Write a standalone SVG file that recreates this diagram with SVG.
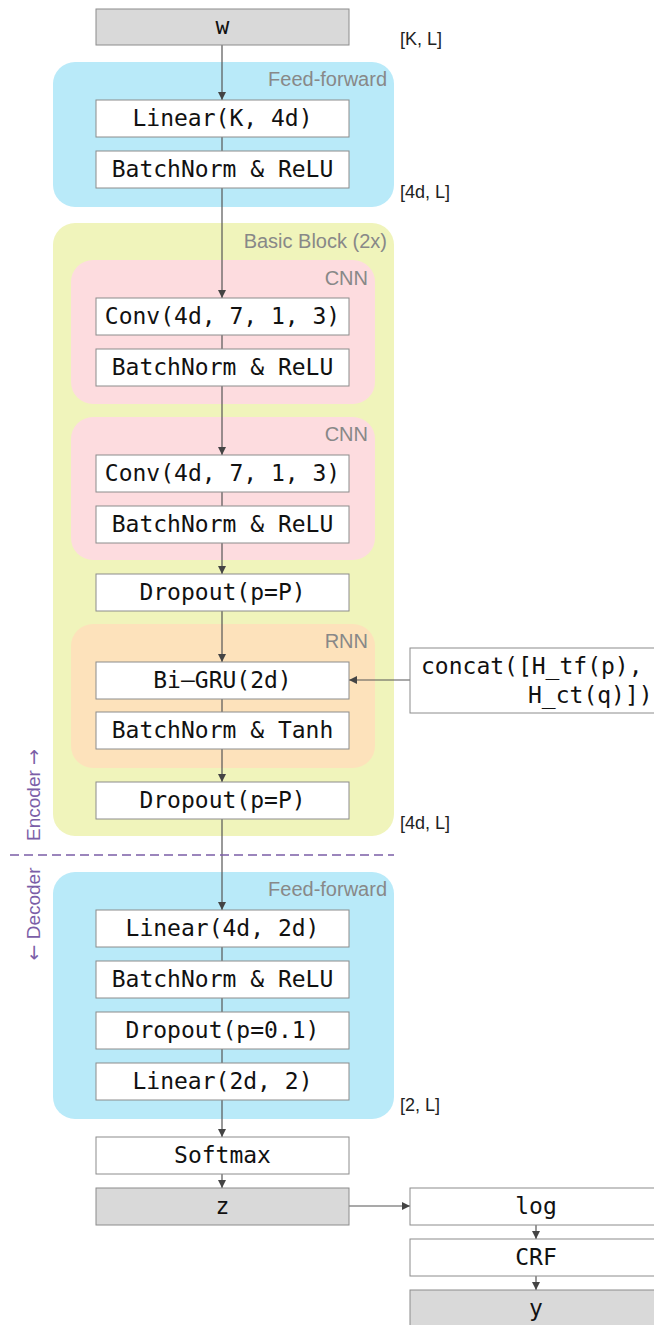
<svg xmlns="http://www.w3.org/2000/svg" width="654" height="1325" viewBox="0 0 654 1325">
  <style>
    .ff { fill: #b9eaf9; }
    .bb { fill: #f0f4bb; }
    .cnn { fill: #fddcdf; }
    .rnn { fill: #fde2bb; }
    .box { fill: #ffffff; stroke: #8c8c8c; stroke-width: 1; }
    .io { fill: #d9d9d9; stroke: #8c8c8c; stroke-width: 1; }
    .t { font-family: "DejaVu Sans Mono", "Liberation Mono", monospace; font-size: 23px; fill: #111; text-anchor: middle; }
    .tl { font-family: "DejaVu Sans Mono", "Liberation Mono", monospace; font-size: 23px; fill: #111; }
    .grp { font-family: "Liberation Sans", Arial, sans-serif; font-size: 20px; fill: #888; text-anchor: end; }
    .dim { font-family: "Liberation Sans", Arial, sans-serif; font-size: 18px; fill: #222; }
    .side { font-family: "Liberation Sans", Arial, sans-serif; font-size: 19px; fill: #7b5ea7; text-anchor: middle; }
    .sym { font-family: "DejaVu Sans", sans-serif; }
    .edge { stroke: #555; stroke-width: 1.2; fill: none; }
    .arr { stroke: #555; stroke-width: 1.2; fill: none; marker-end: url(#ah); }
  </style>
  <defs>
    <marker id="ah" viewBox="0 0 10 10" refX="10" refY="5" markerWidth="8" markerHeight="8" markerUnits="userSpaceOnUse" orient="auto">
      <path d="M0,0 L10,5 L0,10 z" fill="#444"/>
    </marker>
  </defs>

  <!-- containers -->
  <g id="encoder-ff">
    <rect class="ff" x="53" y="62" width="341" height="145" rx="22"/>
    <text class="grp" x="387" y="86">Feed-forward</text>
  </g>
  <g id="basic-block">
    <rect class="bb" x="53" y="223" width="341" height="613" rx="22"/>
    <text class="grp" x="387" y="248">Basic Block (2x)</text>
  </g>
  <g id="cnn-1">
    <rect class="cnn" x="71" y="260" width="304" height="144" rx="22"/>
    <text class="grp" x="368" y="285">CNN</text>
  </g>
  <g id="cnn-2">
    <rect class="cnn" x="71" y="417" width="304" height="143" rx="22"/>
    <text class="grp" x="368" y="441">CNN</text>
  </g>
  <g id="rnn">
    <rect class="rnn" x="71" y="624" width="304" height="144" rx="22"/>
    <text class="grp" x="368" y="648">RNN</text>
  </g>
  <g id="decoder-ff">
    <rect class="ff" x="53" y="872" width="341" height="247" rx="22"/>
    <text class="grp" x="387" y="896">Feed-forward</text>
  </g>

  <!-- connectors -->
  <g id="connectors">
    <path class="arr" d="M222,45 V100"/>
    <path class="edge" d="M222,137 V151"/>
    <path class="arr" d="M222,188 V298"/>
    <path class="edge" d="M222,335 V349"/>
    <path class="arr" d="M222,386 V455"/>
    <path class="edge" d="M222,492 V506"/>
    <path class="arr" d="M222,543 V574"/>
    <path class="arr" d="M222,611 V662"/>
    <path class="edge" d="M222,699 V712"/>
    <path class="arr" d="M222,749 V782"/>
    <path class="arr" d="M222,819 V910"/>
    <path class="edge" d="M222,947 V961"/>
    <path class="edge" d="M222,998 V1012"/>
    <path class="edge" d="M222,1049 V1063"/>
    <path class="arr" d="M222,1100 V1137"/>
    <path class="arr" d="M222,1174 V1188"/>
    <path class="arr" d="M349,1206 H410"/>
    <path class="arr" d="M536,1225 V1239"/>
    <path class="arr" d="M536,1276 V1290"/>
    <path class="arr" d="M410,680 H349"/>
  </g>

  <!-- encoder / decoder split -->
  <g id="split">
    <line x1="10" y1="855" x2="394" y2="855" stroke="#7b5ea7" stroke-width="1.3" stroke-dasharray="9,5"/>
    <text class="side" transform="translate(40,795) rotate(-90)">Encoder <tspan class="sym">→</tspan></text>
    <text class="side" transform="translate(40,914) rotate(-90)"><tspan class="sym">←</tspan> Decoder</text>
  </g>

  <!-- nodes -->
  <g id="w">
    <rect class="io" x="96" y="9" width="253" height="36"/>
    <text class="t" x="222.5" y="34">w</text>
  </g>
  <g id="linear-k-4d">
    <rect class="box" x="96" y="100" width="253" height="37"/>
    <text class="t" x="222.5" y="126">Linear(K, 4d)</text>
  </g>
  <g id="bn-relu-1">
    <rect class="box" x="96" y="151" width="253" height="37"/>
    <text class="t" x="222.5" y="177">BatchNorm &amp; ReLU</text>
  </g>
  <g id="conv-1">
    <rect class="box" x="96" y="298" width="253" height="37"/>
    <text class="t" x="222.5" y="324">Conv(4d, 7, 1, 3)</text>
  </g>
  <g id="bn-relu-2">
    <rect class="box" x="96" y="349" width="253" height="37"/>
    <text class="t" x="222.5" y="375">BatchNorm &amp; ReLU</text>
  </g>
  <g id="conv-2">
    <rect class="box" x="96" y="455" width="253" height="37"/>
    <text class="t" x="222.5" y="481">Conv(4d, 7, 1, 3)</text>
  </g>
  <g id="bn-relu-3">
    <rect class="box" x="96" y="506" width="253" height="37"/>
    <text class="t" x="222.5" y="532">BatchNorm &amp; ReLU</text>
  </g>
  <g id="dropout-1">
    <rect class="box" x="96" y="574" width="253" height="37"/>
    <text class="t" x="222.5" y="600">Dropout(p=P)</text>
  </g>
  <g id="bi-gru">
    <rect class="box" x="96" y="662" width="253" height="37"/>
    <text class="t" x="222.5" y="688">Bi–GRU(2d)</text>
  </g>
  <g id="bn-tanh">
    <rect class="box" x="96" y="712" width="253" height="37"/>
    <text class="t" x="222.5" y="738">BatchNorm &amp; Tanh</text>
  </g>
  <g id="dropout-2">
    <rect class="box" x="96" y="782" width="253" height="37"/>
    <text class="t" x="222.5" y="808">Dropout(p=P)</text>
  </g>
  <g id="concat">
    <rect class="box" x="410" y="648" width="250" height="65"/>
    <text class="tl" x="421" y="674">concat([H_tf(p),</text>
    <text class="tl" x="528" y="703">H_ct(q)])</text>
  </g>
  <g id="linear-4d-2d">
    <rect class="box" x="96" y="910" width="253" height="37"/>
    <text class="t" x="222.5" y="936">Linear(4d, 2d)</text>
  </g>
  <g id="bn-relu-4">
    <rect class="box" x="96" y="961" width="253" height="37"/>
    <text class="t" x="222.5" y="987">BatchNorm &amp; ReLU</text>
  </g>
  <g id="dropout-3">
    <rect class="box" x="96" y="1012" width="253" height="37"/>
    <text class="t" x="222.5" y="1038">Dropout(p=0.1)</text>
  </g>
  <g id="linear-2d-2">
    <rect class="box" x="96" y="1063" width="253" height="37"/>
    <text class="t" x="222.5" y="1089">Linear(2d, 2)</text>
  </g>
  <g id="softmax">
    <rect class="box" x="96" y="1137" width="253" height="37"/>
    <text class="t" x="222.5" y="1163">Softmax</text>
  </g>
  <g id="z">
    <rect class="io" x="96" y="1188" width="253" height="37"/>
    <text class="t" x="222.5" y="1214">z</text>
  </g>
  <g id="log">
    <rect class="box" x="410" y="1188" width="250" height="37"/>
    <text class="t" x="536" y="1214">log</text>
  </g>
  <g id="crf">
    <rect class="box" x="410" y="1239" width="250" height="37"/>
    <text class="t" x="536" y="1265">CRF</text>
  </g>
  <g id="y">
    <rect class="io" x="410" y="1290" width="250" height="40"/>
    <text class="t" x="536" y="1316">y</text>
  </g>

  <!-- tensor shapes -->
  <g id="shapes">
    <text class="dim" x="400" y="45">[K, L]</text>
    <text class="dim" x="400" y="198">[4d, L]</text>
    <text class="dim" x="400" y="829">[4d, L]</text>
    <text class="dim" x="400" y="1111">[2, L]</text>
  </g>
</svg>
